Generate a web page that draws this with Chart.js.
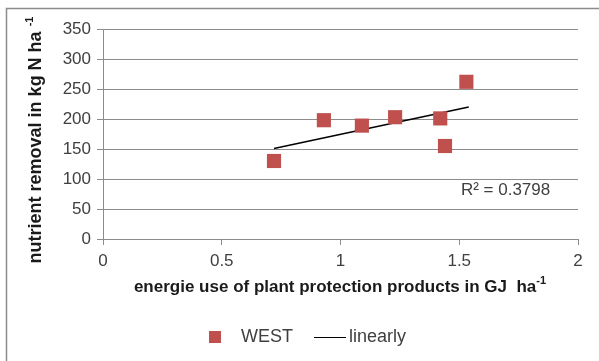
<!DOCTYPE html>
<html>
<head>
<meta charset="utf-8">
<script src="https://cdn.jsdelivr.net/npm/chart.js@4"></script>
<style>
  body { margin: 0; background: #fff; }
  #wrap { width: 599px; height: 361px; }
</style>
</head>
<body>
<div id="wrap"><canvas id="scatterChart" width="599" height="361"></canvas></div>
<script>
// values
var westX = [0.72, 0.93, 1.09, 1.23, 1.42, 1.44, 1.53];
var westY = [130, 198, 189, 203, 201, 155, 262];
var trendX = [0.72, 1.54];
var trendY = [151, 220];
var xTickLabels = ['0', '0.5', '1', '1.5', '2'];
var yTickLabels = ['0', '50', '100', '150', '200', '250', '300', '350'];
var seriesNames = ['WEST', 'linearly'];
var rSquared = 'R\u00b2 = 0.3798';

var FONT = "'Liberation Sans', Arial, sans-serif";
var RED = '#c0504d';

function toPoints(xs, ys) {
    return xs.map(function (x, i) { return { x: x, y: ys[i] }; });
}

// text with a raised "-1" at the end
function supText(ctx, main, sup, size) {
    ctx.font = 'bold ' + size + 'px ' + FONT;
    var w1 = ctx.measureText(main).width;
    ctx.font = 'bold ' + Math.round(size * 0.62) + 'px ' + FONT;
    var w2 = ctx.measureText(sup).width;
    return { w1: w1, w2: w2, w: w1 + w2 };
}
function drawSup(ctx, main, sup, size, cx, cy) {
    var m = supText(ctx, main, sup, size);
    var x0 = cx - m.w / 2;
    ctx.textAlign = 'left';
    ctx.textBaseline = 'middle';
    ctx.font = 'bold ' + size + 'px ' + FONT;
    ctx.fillText(main, x0, cy);
    ctx.font = 'bold ' + Math.round(size * 0.62) + 'px ' + FONT;
    ctx.fillText(sup, x0 + m.w1, cy - size * 0.35);
}

var extras = {
    id: 'extras',
    beforeDraw: function (chart) {
        var c = chart.ctx;
        c.save();
        c.fillStyle = '#fff';
        c.fillRect(0, 0, chart.width, chart.height);
        c.strokeStyle = '#8c8c8c';
        c.lineWidth = 1.5;
        c.beginPath();
        c.moveTo(6.5, chart.height);
        c.lineTo(6.5, 8.5);
        c.lineTo(chart.width, 8.5);
        c.stroke();
        c.restore();
    },
    afterDraw: function (chart) {
        var c = chart.ctx;
        var xs = chart.scales.x, ys = chart.scales.y;
        c.save();
        c.fillStyle = '#1a1a1a';

        // axis titles
        drawSup(c, 'energie use of plant protection products in GJ  ha', '-1', 17, 340, 287);
        c.save();
        c.translate(36, 140);
        c.rotate(-Math.PI / 2);
        drawSup(c, 'nutrient removal in kg N ha ', '-1', 18, 0, 0);
        c.restore();

        // R² label
        c.fillStyle = '#404040';
        c.font = '17px ' + FONT;
        c.textAlign = 'left';
        c.textBaseline = 'middle';
        c.fillText(rSquared, xs.getPixelForValue(1.507), ys.getPixelForValue(81));

        // legend
        var ly = 337;
        c.fillStyle = RED;
        c.fillRect(209, ly - 6, 12, 12);
        c.fillStyle = '#404040';
        c.font = '18px ' + FONT;
        c.fillText(seriesNames[0], 241, ly);
        c.strokeStyle = '#000';
        c.lineWidth = 1;
        c.beginPath();
        c.moveTo(314, ly + 0.5);
        c.lineTo(346, ly + 0.5);
        c.stroke();
        c.fillText(seriesNames[1], 349, ly);
        c.restore();
    }
};

new Chart(document.getElementById('scatterChart'), {
    type: 'scatter',
    data: {
        datasets: [{
            label: seriesNames[0],
            data: toPoints(westX, westY),
            pointStyle: 'rect',
            pointRadius: 10,
            pointHoverRadius: 10,
            backgroundColor: RED,
            borderColor: RED,
            borderWidth: 0
        }, {
            label: seriesNames[1],
            type: 'line',
            data: toPoints(trendX, trendY),
            borderColor: '#000',
            borderWidth: 1.5,
            pointRadius: 0,
            fill: false
        }]
    },
    options: {
        responsive: false,
        animation: false,
        layout: { padding: { top: 29, right: 21, left: 0, bottom: 0 } },
        plugins: {
            legend: { display: false },
            tooltip: { enabled: false }
        },
        scales: {
            x: {
                type: 'linear',
                min: 0,
                max: 2,
                afterFit: function (s) { s.height = 122; },
                afterBuildTicks: function (s) {
                    s.ticks = xTickLabels.map(function (t) { return { value: parseFloat(t) }; });
                },
                ticks: {
                    color: '#404040',
                    font: { family: FONT, size: 17 },
                    padding: 6,
                    callback: function (v, i) { return xTickLabels[i]; }
                },
                grid: {
                    drawOnChartArea: false,
                    drawTicks: true,
                    tickLength: 6,
                    color: '#8c8c8c'
                },
                border: { display: true, color: '#8c8c8c', width: 1 }
            },
            y: {
                min: 0,
                max: 350,
                afterFit: function (s) { s.width = 103; },
                afterBuildTicks: function (s) {
                    s.ticks = yTickLabels.map(function (t) { return { value: parseFloat(t) }; });
                },
                ticks: {
                    color: '#404040',
                    font: { family: FONT, size: 17 },
                    padding: 6,
                    callback: function (v, i) { return yTickLabels[i]; }
                },
                grid: {
                    color: '#8c8c8c',
                    tickLength: 6,
                    lineWidth: 1
                },
                border: { display: true, color: '#8c8c8c', width: 1 }
            }
        }
    },
    plugins: [extras]
});
</script>
</body>
</html>
